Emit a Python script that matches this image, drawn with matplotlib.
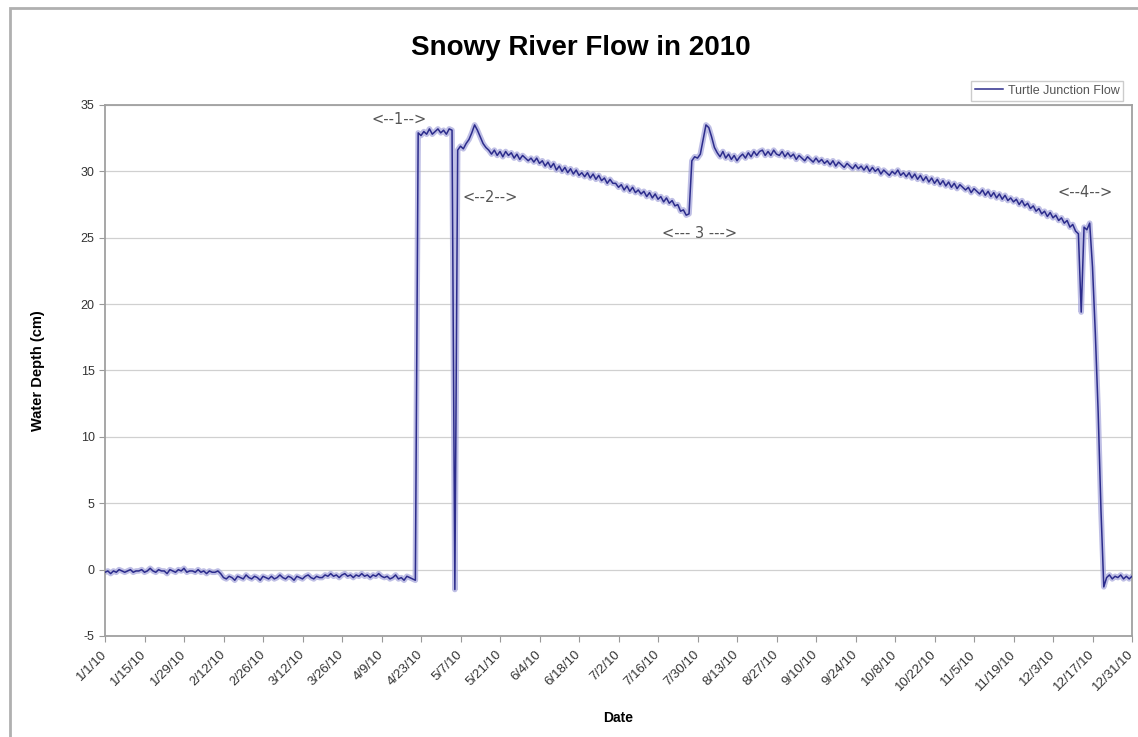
import datetime as dt

import matplotlib
matplotlib.use('Agg')
import matplotlib.pyplot as plt
import pandas as pd
from matplotlib.patches import Rectangle

# daily water depth (cm), 1 Jan .. 31 Dec 2010
jan = [-0.2, -0.1, -0.3, -0.1, -0.2, 0.0, -0.1, -0.2, -0.1, 0.0, -0.2, -0.1, -0.1, 0.0, -0.2, -0.1,
       0.1, -0.1, -0.2, 0.0, -0.1, -0.1, -0.3, 0.0, -0.1, -0.2, 0.0, -0.1, 0.1, -0.2, -0.1]
feb = [-0.1, -0.2, 0.0, -0.2, -0.1, -0.3, -0.1, -0.2, -0.2, -0.1, -0.3,
       -0.6, -0.7, -0.5, -0.6, -0.8, -0.5, -0.6, -0.7, -0.4, -0.6, -0.7, -0.5, -0.6, -0.8, -0.5, -0.6, -0.7]
mar = [-0.5, -0.7, -0.6, -0.4, -0.6, -0.7, -0.5, -0.6, -0.8, -0.5, -0.6, -0.7, -0.5, -0.4, -0.6, -0.7,
       -0.5, -0.6, -0.6, -0.4, -0.5, -0.3, -0.5, -0.4, -0.6, -0.4, -0.3, -0.5, -0.4, -0.6, -0.4]
apr = [-0.5, -0.3, -0.5, -0.4, -0.6, -0.4, -0.5, -0.3, -0.5, -0.6,
       -0.5, -0.7, -0.6, -0.4, -0.7, -0.6, -0.8, -0.5, -0.6, -0.7, -0.8,
       32.9, 32.7, 33.0, 32.8, 33.2, 32.8, 33.0, 33.2, 32.9]
may = [33.1, 32.8, 33.2, 33.1, -1.5, 31.6, 31.9, 31.7, 32.1, 32.4, 32.9, 33.5, 33.1, 32.6, 32.1, 31.8,
       31.6, 31.3, 31.6, 31.2, 31.5, 31.1, 31.5, 31.2, 31.4, 31.0, 31.3, 30.9, 31.2, 31.0, 30.8]
jun = [31.0, 30.7, 31.0, 30.6, 30.8, 30.4, 30.7, 30.3, 30.6, 30.1, 30.4, 30.0, 30.3, 29.9, 30.2,
       29.8, 30.1, 29.7, 29.9, 29.6, 29.9, 29.5, 29.8, 29.4, 29.7, 29.3, 29.5, 29.1, 29.4, 29.1]
jul = [29.1, 28.8, 29.0, 28.6, 28.9, 28.5, 28.8, 28.4, 28.6, 28.3, 28.5, 28.1, 28.4, 28.0, 28.3,
       27.9, 28.1, 27.7, 28.0, 27.6, 27.8, 27.4, 27.5, 27.0, 27.1, 26.7, 26.8,
       30.8, 31.1, 31.0, 31.3]
aug = [32.4, 33.5, 33.3, 32.6, 31.8, 31.4, 31.1, 31.5, 31.0, 31.3, 30.9, 31.2, 30.8, 31.1, 31.3,
       31.0, 31.4, 31.1, 31.5, 31.2, 31.5, 31.6, 31.2, 31.5, 31.2, 31.6, 31.3, 31.2, 31.5, 31.1, 31.4]
sep = [31.1, 31.3, 30.9, 31.2, 31.0, 30.8, 31.1, 30.9, 30.7, 31.0, 30.7, 30.9, 30.6, 30.8, 30.5,
       30.8, 30.4, 30.7, 30.5, 30.3, 30.6, 30.4, 30.2, 30.5, 30.2, 30.4, 30.1, 30.4, 30.0, 30.3]
oct_ = [30.0, 30.2, 29.8, 30.1, 29.9, 29.7, 30.0, 29.8, 30.1, 29.7, 29.9, 29.6, 29.9, 29.5, 29.8,
        29.4, 29.7, 29.3, 29.6, 29.2, 29.5, 29.1, 29.4, 29.0, 29.3, 28.9, 29.2, 28.8, 29.1, 28.7, 29.0]
nov = [28.8, 28.6, 28.8, 28.4, 28.7, 28.5, 28.3, 28.6, 28.2, 28.5, 28.1, 28.4, 28.0, 28.3, 27.9,
       28.2, 27.8, 28.0, 27.7, 27.9, 27.5, 27.8, 27.4, 27.6, 27.2, 27.4, 27.0, 27.2, 26.8, 27.0]
dec = [26.6, 26.9, 26.5, 26.7, 26.3, 26.5, 26.1, 26.3, 25.8, 26.0, 25.5, 25.3,
       19.4, 25.8, 25.6, 26.1, 22.8, 17.8, 11.9, 4.5, -1.3,
       -0.6, -0.4, -0.7, -0.5, -0.6, -0.4, -0.7, -0.5, -0.7, -0.5]

depth = jan + feb + mar + apr + may + jun + jul + aug + sep + oct_ + nov + dec
dates = pd.date_range('2010-01-01', periods=len(depth), freq='D')

tick_dates = pd.date_range('2010-01-01', '2010-12-31', freq='14D')
tick_labels = [f"{d.month}/{d.day}/{d.strftime('%y')}" for d in tick_dates]

notes = ['<--1-->', '<--2-->', '<--- 3 --->', '<--4-->']
note_days = [104.2, 136.5, 210.6, 347.4]
note_vals = [33.9, 28.0, 25.3, 28.4]

plt.rcParams['font.family'] = ['Liberation Sans', 'DejaVu Sans']
plt.rcParams['axes.unicode_minus'] = False

fig = plt.figure(figsize=(11.38, 7.37), dpi=100)
ax = fig.add_axes([105 / 1138, 1 - 636 / 737, 1027 / 1138, 531 / 737])

# soft halo + dark core, like the blurred original
ax.plot(dates, depth, color='#a4a4da', lw=4.0, alpha=0.7, zorder=2)
ax.plot(dates, depth, color='#2c2c8c', lw=1.1, zorder=3, label='Turtle Junction Flow')

ax.set_xlim(dates[0], dates[-1])
ax.set_ylim(-5, 35)
ax.set_yticks(range(-5, 36, 5))
ax.set_xticks(tick_dates)
ax.set_xticklabels(tick_labels, rotation=45, ha='right', va='center', rotation_mode='anchor',
                   fontsize=9.5, color='#333333')
ax.tick_params(axis='y', labelsize=9, labelcolor='#333333', length=4, color='#999999')
ax.tick_params(axis='x', length=4, color='#999999', pad=8)
ax.grid(axis='y', color='#d0d0d0', lw=0.9)
ax.set_axisbelow(True)
for s in ax.spines.values():
    s.set_color('#a0a0a0')
    s.set_linewidth(1.3)

for txt, d, v in zip(notes, note_days, note_vals):
    ax.text(dates[0] + dt.timedelta(days=d), v, txt, ha='center', va='center',
            fontsize=10.5, color='#555555', family='DejaVu Sans')

ax.set_xlabel('Date', fontsize=10, fontweight='bold')
ax.xaxis.set_label_coords(0.5, -0.141)
ax.set_ylabel('Water Depth (cm)', fontsize=10.5, fontweight='bold')
ax.yaxis.set_label_coords(-0.058, 0.5)

fig.text(581 / 1138, 1 - 48 / 737, 'Snowy River Flow in 2010', ha='center', va='center',
         fontsize=20, fontweight='bold')

leg = ax.legend(loc='upper right', bbox_to_anchor=(1123 / 1138, 1 - 81 / 737),
                bbox_transform=fig.transFigure, fontsize=9, frameon=True, fancybox=False,
                edgecolor='#cccccc', framealpha=1, borderpad=0.3, handletextpad=0.4,
                borderaxespad=0, handlelength=2.2)
for t in leg.get_texts():
    t.set_color('#555555')

# outer chart border
fig.add_artist(Rectangle((10 / 1138, -0.02), 1.05, 1 - 8 / 737 + 0.02, transform=fig.transFigure,
                         fill=False, edgecolor='#b0b0b0', lw=2))

fig.savefig('out.png', dpi=100)
